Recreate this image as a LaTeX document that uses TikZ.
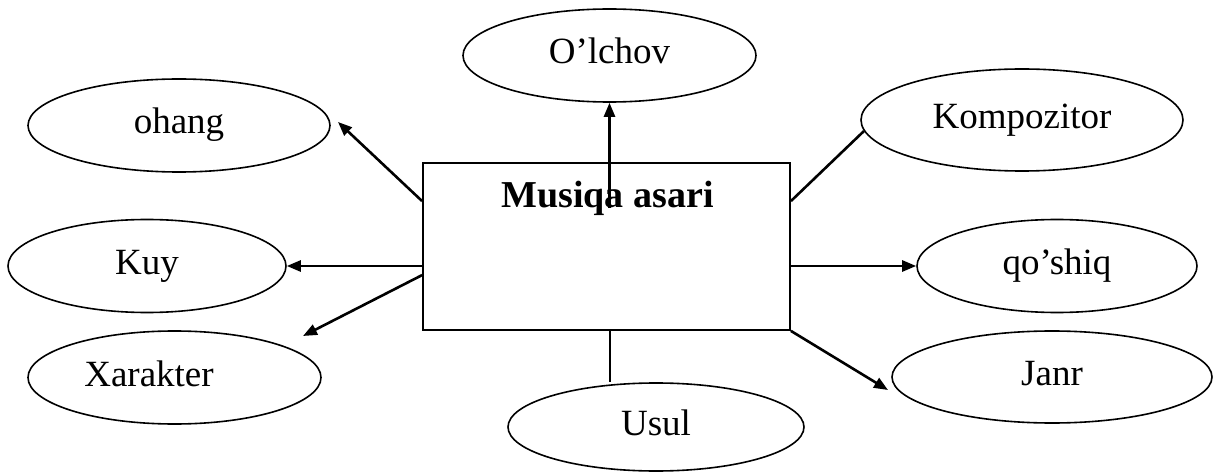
\documentclass[tikz,border=0pt]{standalone}
\usepackage{fontspec}
\setmainfont{Liberation Serif}
\usetikzlibrary{shapes.geometric,arrows.meta}
\begin{document}
\begin{tikzpicture}[x=1pt,y=-1pt,
  txt/.style={font=\fontsize{37}{44}\selectfont, text height=25pt, text depth=8pt, inner sep=0pt},
  oval/.style={draw, ellipse, line width=1.6pt, txt},
  conn/.style={line width=2.6pt},
  arr/.style={conn, -{Triangle[length=14pt,width=11pt]}},
]
\useasboundingbox (0,0) rectangle (1213,473);
% central box
\node[draw, line width=1.8pt, minimum width=367pt, minimum height=167pt, inner sep=0pt] (box) at (606.5,246.5) {};
\node[anchor=base, inner sep=0pt, font=\fontsize{38}{46}\selectfont\bfseries] (title) at (607.5,208) {Musiqa asari};
% ellipses
\node[oval, minimum width=293pt, minimum height=93pt] (olchov) at (609.5,55.5) {O’lchov};
\node[oval, minimum width=302pt, minimum height=93pt] (ohang) at (179,125.5) {ohang};
\node[oval, minimum width=322pt, minimum height=102pt] (komp) at (1022,120) {Kompozitor};
\node[oval, minimum width=278pt, minimum height=93pt] (kuy) at (147,266) {Kuy};
\node[oval, minimum width=280pt, minimum height=93pt] (qoshiq) at (1057,266) {qo’shiq};
\node[oval, minimum width=293pt, minimum height=93pt,
      label={[txt, xshift=-25.5pt]center:Xarakter}] (xarakter) at (174.5,377.5) {};
\node[oval, minimum width=320pt, minimum height=92pt] (janr) at (1052,377) {Janr};
\node[oval, minimum width=296pt, minimum height=88pt] (usul) at (656,427) {Usul};
% connector end points
\coordinate (oh-s) at ([yshift=-39pt]box.north west);
\coordinate (oh-t) at (338,122);
\coordinate (ko-s) at ([yshift=-39pt]box.north east);
\coordinate (xa-s) at ([yshift=-113pt]box.north west);
\coordinate (xa-t) at (303,336);
\coordinate (ja-t) at (888,390);
\coordinate (us-x) at (610,0);
% connectors
\draw[arr] (oh-s) -- (oh-t);
\draw[arr] (olchov.south |- title.base) -- (olchov.south);
\draw[conn] (ko-s) -- (komp.184);
\draw[arr] (box.west |- kuy.east) -- (kuy.east);
\draw[arr] (box.east |- qoshiq.west) -- (qoshiq.west);
\draw[arr] (xa-s) -- (xa-t);
\draw[arr] (box.south east) -- (ja-t);
\draw[conn] (us-x |- box.south) -- (us-x |- usul.north);
\end{tikzpicture}
\end{document}
